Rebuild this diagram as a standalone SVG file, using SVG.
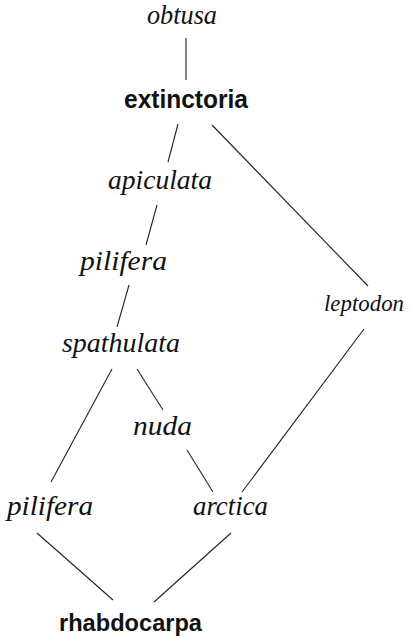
<svg xmlns="http://www.w3.org/2000/svg" width="411" height="637" viewBox="0 0 411 637">
<style>
.it{font-family:"Liberation Serif","DejaVu Serif",serif;font-style:italic;font-size:27px;fill:#111;}
.bd{font-family:"Liberation Sans","DejaVu Sans",sans-serif;font-weight:bold;font-size:26px;fill:#111;}
.c line{stroke:#222;stroke-width:1.1;}
</style>
<rect width="411" height="637" fill="#fff"/>
<g id="n-obtusa"><text class="it" x="147" y="24" textLength="70" lengthAdjust="spacingAndGlyphs">obtusa</text></g>
<g id="n-extinctoria"><text class="bd" x="124" y="108" textLength="124" lengthAdjust="spacingAndGlyphs">extinctoria</text></g>
<g id="n-apiculata"><text class="it" x="108" y="189" textLength="104" lengthAdjust="spacingAndGlyphs">apiculata</text></g>
<g id="n-pilifera1"><text class="it" x="80" y="270" textLength="87" lengthAdjust="spacingAndGlyphs">pilifera</text></g>
<g id="n-spathulata"><text class="it" x="62" y="352" textLength="118" lengthAdjust="spacingAndGlyphs">spathulata</text></g>
<g id="n-leptodon"><text class="it" x="324" y="311" textLength="80" lengthAdjust="spacingAndGlyphs" style="font-size:24px">leptodon</text></g>
<g id="n-nuda"><text class="it" x="133" y="435" textLength="59" lengthAdjust="spacingAndGlyphs">nuda</text></g>
<g id="n-pilifera2"><text class="it" x="7" y="515" textLength="86" lengthAdjust="spacingAndGlyphs">pilifera</text></g>
<g id="n-arctica"><text class="it" x="193" y="515" textLength="75" lengthAdjust="spacingAndGlyphs">arctica</text></g>
<g id="n-rhabdocarpa"><text class="bd" x="59" y="631" textLength="143" lengthAdjust="spacingAndGlyphs" style="font-size:24px">rhabdocarpa</text></g>
<g id="connectors" class="c">
<line x1="186" y1="38" x2="186" y2="80"/>
<line x1="178" y1="124" x2="168" y2="162"/>
<line x1="212" y1="125" x2="368" y2="286"/>
<line x1="157" y1="205" x2="146" y2="245"/>
<line x1="129" y1="285" x2="117" y2="327"/>
<line x1="112" y1="369" x2="51" y2="482"/>
<line x1="137" y1="369" x2="163" y2="410"/>
<line x1="187" y1="450" x2="213" y2="492"/>
<line x1="364" y1="329" x2="242" y2="492"/>
<line x1="37" y1="533" x2="113" y2="600"/>
<line x1="231" y1="533" x2="154" y2="602"/>
</g>
</svg>
